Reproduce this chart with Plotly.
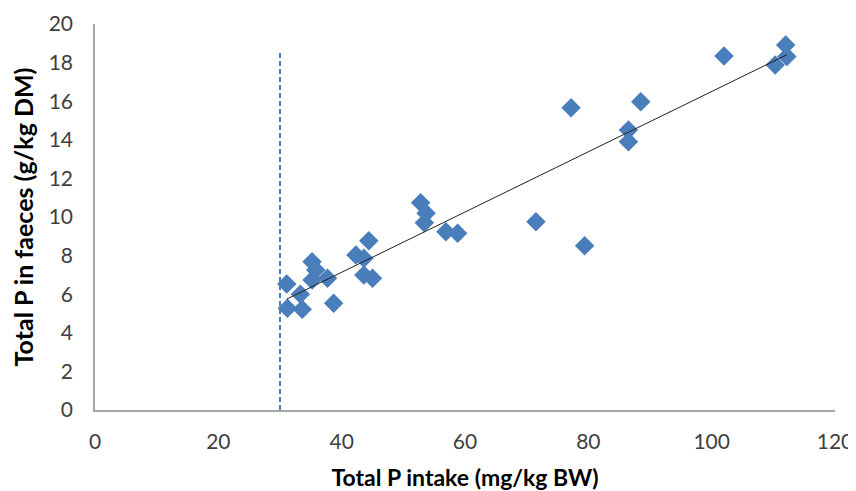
import numpy as np
import plotly.graph_objects as go

# Total P intake (mg/kg BW)
p_intake = [31.1, 31.2, 33.3, 33.6, 35.2, 35.8, 35.2, 37.7, 38.7, 42.3, 43.6, 44.4,
            43.6, 45.0, 52.8, 53.7, 53.4, 56.9, 58.8, 77.2, 88.5, 86.5, 86.5, 71.5,
            79.4, 102.0, 112.0, 112.2, 110.3]
# Total P in faeces (g/kg DM)
p_faeces = [6.53, 5.27, 6.0, 5.22, 7.68, 7.25, 6.74, 6.82, 5.53, 8.03, 7.86, 8.77,
            6.99, 6.82, 10.74, 10.19, 9.70, 9.24, 9.16, 15.66, 15.97, 14.51, 13.90, 9.76,
            8.51, 18.34, 18.91, 18.31, 17.88]

threshold_x = [30, 30]
threshold_y = [0, 18.5]

x_ticks = [0, 20, 40, 60, 80, 100, 120]
y_ticks = [0, 2, 4, 6, 8, 10, 12, 14, 16, 18, 20]

x_title = "Total P intake (mg/kg BW)"
y_title = "Total P in faeces (g/kg DM)"

slope, intercept = np.polyfit(p_intake, p_faeces, 1)
fit_x = [min(p_intake), max(p_intake)]
fit_y = [slope * v + intercept for v in fit_x]

blue = "#4A7EBB"
font = "Lato, Open Sans, sans-serif"

fig = go.Figure()
fig.add_trace(go.Scatter(x=threshold_x, y=threshold_y, mode="lines",
                         line=dict(color=blue, width=2, dash="5px,3px"), hoverinfo="skip"))
fig.add_trace(go.Scatter(x=p_intake, y=p_faeces, mode="markers",
                         marker=dict(symbol="diamond", size=15, color=blue,
                                     line=dict(width=0))))
fig.add_trace(go.Scatter(x=fit_x, y=fit_y, mode="lines",
                         line=dict(color="#202020", width=1)))

# page body has an 8px margin, so the figure is sized to fit the 856x491 window
fig.update_layout(
    width=848, height=483,
    margin=dict(l=87, r=21, t=16, b=81),
    paper_bgcolor="white", plot_bgcolor="white",
    showlegend=False,
    font=dict(family=font, size=21, color="#404040"),
    xaxis=dict(range=[0, 120], tickvals=x_ticks, showgrid=False, zeroline=False,
               showline=True, linecolor="#A6A6A6", linewidth=1.5, ticks="",
               automargin=False, ticklabelstandoff=12,
               tickfont=dict(size=21, color="#404040"),
               title=dict(text=x_title, font=dict(size=23, color="#000000", family=font,
                                                  weight="bold"), standoff=20)),
    yaxis=dict(range=[0, 20], tickvals=y_ticks, showgrid=False, zeroline=False,
               showline=True, linecolor="#A6A6A6", linewidth=1.5, ticks="",
               automargin=False, ticklabelstandoff=16,
               tickfont=dict(size=21, color="#404040"),
               title=dict(text=y_title, font=dict(size=25, color="#000000", family=font,
                                                  weight="bold"), standoff=8)),
)

fig.write_html("out.html")
